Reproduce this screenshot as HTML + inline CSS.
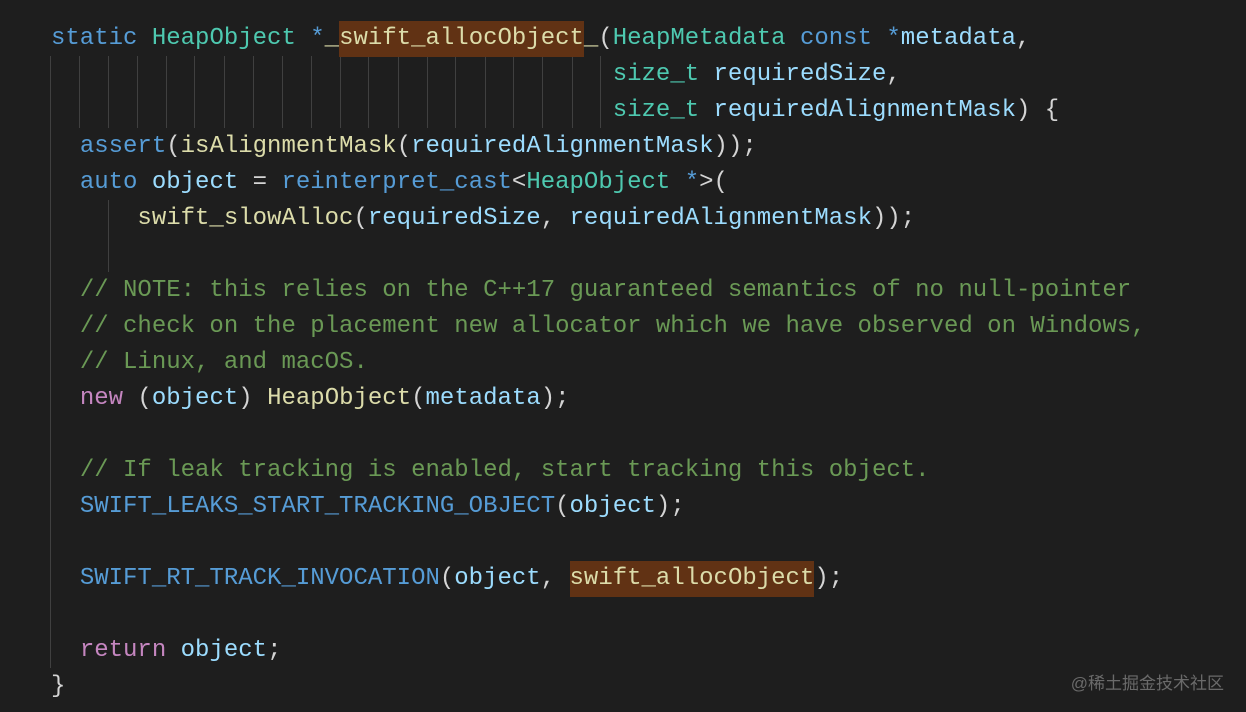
<!DOCTYPE html>
<html><head><meta charset="utf-8"><style>
html,body{margin:0;padding:0;}
body{width:1246px;height:712px;background:#1e1e1e;position:relative;overflow:hidden;}
pre{position:absolute;left:51px;top:21px;margin:0;font-family:"Liberation Mono",monospace;font-size:24px;line-height:36px;color:#d4d4d4;white-space:pre;}
.k{color:#569cd6}.t{color:#4ec9b0}.f{color:#dcdcaa}.v{color:#9cdcfe}.c{color:#6a9955}.p{color:#c586c0}
.h{background:#613214;display:inline-block;height:36px;vertical-align:top;}
.g{position:absolute;width:1px;background:#404040;}
.w{position:absolute;right:22px;top:669px;font-family:"Liberation Sans","Noto Sans CJK SC",sans-serif;font-size:17px;color:#6a6a6a;}
</style></head><body>
<div class="g" style="left:50px;top:56px;height:612px"></div>
<div class="g" style="left:79px;top:56px;height:72px"></div>
<div class="g" style="left:108px;top:56px;height:72px"></div>
<div class="g" style="left:137px;top:56px;height:72px"></div>
<div class="g" style="left:166px;top:56px;height:72px"></div>
<div class="g" style="left:194px;top:56px;height:72px"></div>
<div class="g" style="left:224px;top:56px;height:72px"></div>
<div class="g" style="left:253px;top:56px;height:72px"></div>
<div class="g" style="left:282px;top:56px;height:72px"></div>
<div class="g" style="left:311px;top:56px;height:72px"></div>
<div class="g" style="left:340px;top:56px;height:72px"></div>
<div class="g" style="left:368px;top:56px;height:72px"></div>
<div class="g" style="left:398px;top:56px;height:72px"></div>
<div class="g" style="left:427px;top:56px;height:72px"></div>
<div class="g" style="left:455px;top:56px;height:72px"></div>
<div class="g" style="left:485px;top:56px;height:72px"></div>
<div class="g" style="left:513px;top:56px;height:72px"></div>
<div class="g" style="left:542px;top:56px;height:72px"></div>
<div class="g" style="left:572px;top:56px;height:72px"></div>
<div class="g" style="left:600px;top:56px;height:72px"></div>
<div class="g" style="left:108px;top:200px;height:72px"></div>
<pre><span class="k">static</span> <span class="t">HeapObject</span> <span class="k">*</span><span class="f">_<span class="h">swift_allocObject</span>_</span>(<span class="t">HeapMetadata</span> <span class="k">const</span> <span class="k">*</span><span class="v">metadata</span>,
                                       <span class="t">size_t</span> <span class="v">requiredSize</span>,
                                       <span class="t">size_t</span> <span class="v">requiredAlignmentMask</span>) {
  <span class="k">assert</span>(<span class="f">isAlignmentMask</span>(<span class="v">requiredAlignmentMask</span>));
  <span class="k">auto</span> <span class="v">object</span> = <span class="k">reinterpret_cast</span>&lt;<span class="t">HeapObject</span> <span class="k">*</span>&gt;(
      <span class="f">swift_slowAlloc</span>(<span class="v">requiredSize</span>, <span class="v">requiredAlignmentMask</span>));

  <span class="c">// NOTE: this relies on the C++17 guaranteed semantics of no null-pointer</span>
  <span class="c">// check on the placement new allocator which we have observed on Windows,</span>
  <span class="c">// Linux, and macOS.</span>
  <span class="p">new</span> (<span class="v">object</span>) <span class="f">HeapObject</span>(<span class="v">metadata</span>);

  <span class="c">// If leak tracking is enabled, start tracking this object.</span>
  <span class="k">SWIFT_LEAKS_START_TRACKING_OBJECT</span>(<span class="v">object</span>);

  <span class="k">SWIFT_RT_TRACK_INVOCATION</span>(<span class="v">object</span>, <span class="f h">swift_allocObject</span>);

  <span class="p">return</span> <span class="v">object</span>;
}</pre>
<div class="w">@稀土掘金技术社区</div>
</body></html>
